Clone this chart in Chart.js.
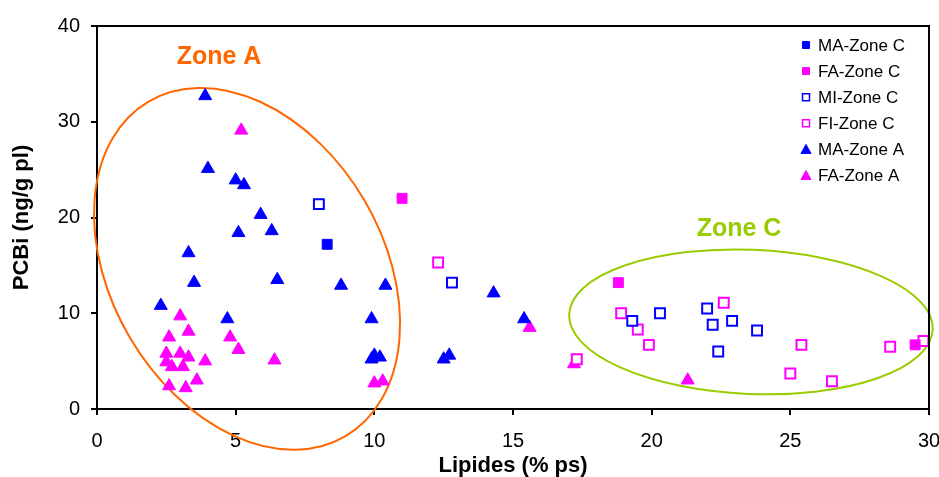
<!DOCTYPE html>
<html>
<head>
<meta charset="utf-8">
<script src="https://cdn.jsdelivr.net/npm/chart.js@4.4.0/dist/chart.umd.min.js"></script>
<style>
  html, body { margin: 0; padding: 0; background: #fff; }
  #wrap { width: 939px; height: 477px; }
</style>
</head>
<body>
<div id="wrap"><canvas id="pcbChart"></canvas></div>
<script>
// series: [lipides (% ps), PCBi (ng/g pl)]
var maZoneC = [[8.3, 17.2]];
var faZoneC = [[11.0, 22.0], [18.8, 13.2], [29.5, 6.7]];
var miZoneC = [[8.0, 21.4], [12.8, 13.2], [19.3, 9.2], [20.3, 10.0], [22.0, 10.5],
               [22.2, 8.8], [22.9, 9.2], [23.8, 8.2], [22.4, 6.0]];
var fiZoneC = [[12.3, 15.3], [17.3, 5.2], [18.9, 10.0], [19.5, 8.3], [19.9, 6.7],
               [22.6, 11.1], [25.4, 6.7], [25.0, 3.7], [26.5, 2.9], [28.6, 6.5], [29.8, 7.1]];
var maZoneA = [[3.9, 32.7], [4.0, 25.1], [5.0, 23.9], [5.3, 23.4], [5.9, 20.3], [6.3, 18.6],
               [5.1, 18.4], [3.3, 16.3], [3.5, 13.2], [6.5, 13.5], [8.8, 12.9], [10.4, 12.9],
               [2.3, 10.8], [4.7, 9.4], [9.9, 9.4], [10.0, 5.6], [10.2, 5.4], [9.9, 5.2],
               [12.5, 5.2], [12.7, 5.6], [14.3, 12.1], [15.4, 9.4]];
var faZoneA = [[5.2, 29.1], [3.0, 9.7], [3.3, 8.1], [2.6, 7.5], [4.8, 7.5], [5.1, 6.2],
               [2.5, 5.8], [3.0, 5.8], [3.3, 5.4], [3.9, 5.0], [6.4, 5.1], [2.5, 4.9],
               [2.7, 4.4], [3.1, 4.4], [3.6, 3.0], [2.6, 2.4], [3.2, 2.2], [10.0, 2.7],
               [10.3, 2.9], [15.6, 8.5], [17.2, 4.7], [21.3, 3.0]];

var xTicks = [0, 5, 10, 15, 20, 25, 30];
var yTicks = [0, 10, 20, 30, 40];

var BLUE = '#0000FF', PINK = '#FF00FF';
var FONT = '"Liberation Sans", Arial, sans-serif';

function pts(arr) {
  return arr.map(function (p) { return { x: p[0], y: p[1] }; });
}

function ds(label, arr, color, style, filled) {
  return {
    label: label,
    data: pts(arr),
    pointStyle: style,
    pointRadius: style === 'triangle' ? 7.5 : 7,
    pointHoverRadius: style === 'triangle' ? 7.5 : 7,
    pointBackgroundColor: filled ? color : '#FFFFFF',
    pointBorderColor: color,
    pointBorderWidth: filled ? 1 : 2,
    showLine: false
  };
}

// zone ellipses (centre in data units, radii in x-units, rotation in degrees)
var zones = [
  { text: 'Zone A', color: '#FF6600', cx: 5.41, cy: 14.64, rx: 4.9, ry: 7.0, rot: -30.5, tx: 4.4, ty: 36.8 },
  { text: 'Zone C', color: '#99CC00', cx: 23.58, cy: 9.1, rx: 6.56, ry: 2.6, rot: 2.4, tx: 23.15, ty: 18.8 }
];

var extras = {
  id: 'extras',
  beforeDatasetsDraw: function (chart) {
    var ctx = chart.ctx, x = chart.scales.x, y = chart.scales.y;
    var k = x.getPixelForValue(1) - x.getPixelForValue(0);
    ctx.save();
    zones.forEach(function (z) {
      ctx.beginPath();
      ctx.strokeStyle = z.color;
      ctx.lineWidth = 2;
      ctx.ellipse(x.getPixelForValue(z.cx), y.getPixelForValue(z.cy), z.rx * k, z.ry * k, z.rot * Math.PI / 180, 0, Math.PI * 2);
      ctx.stroke();
      ctx.fillStyle = z.color;
      ctx.font = 'bold 25px ' + FONT;
      ctx.textAlign = 'center';
      ctx.textBaseline = 'middle';
      ctx.fillText(z.text, x.getPixelForValue(z.tx), y.getPixelForValue(z.ty));
    });
    ctx.restore();
  },
  afterDraw: function (chart) {
    var ctx = chart.ctx, a = chart.chartArea;
    ctx.save();
    // plot frame (top and right)
    ctx.strokeStyle = '#000';
    ctx.lineWidth = 2;
    ctx.beginPath();
    ctx.moveTo(a.left, a.top);
    ctx.lineTo(a.right, a.top);
    ctx.lineTo(a.right, a.bottom);
    ctx.stroke();
    // legend inside plot
    var lx = 806, ly = 45, step = 26.1;
    ctx.font = '17px ' + FONT;
    ctx.textBaseline = 'middle';
    ctx.textAlign = 'left';
    chart.data.datasets.forEach(function (d, i) {
      var cy = ly + i * step;
      ctx.fillStyle = d.pointBackgroundColor;
      ctx.strokeStyle = d.pointBorderColor;
      ctx.lineWidth = d.pointBorderWidth === 2 ? 1.5 : 1;
      ctx.beginPath();
      if (d.pointStyle === 'triangle') {
        ctx.moveTo(lx, cy - 5);
        ctx.lineTo(lx + 5, cy + 4);
        ctx.lineTo(lx - 5, cy + 4);
        ctx.closePath();
      } else {
        ctx.rect(lx - 3.5, cy - 3.5, 7, 7);
      }
      ctx.fill();
      ctx.stroke();
      ctx.fillStyle = '#000';
      ctx.fillText(d.label, lx + 12, cy + 1);
    });
    ctx.restore();
  }
};

var ctx = document.getElementById('pcbChart');
new Chart(ctx, {
  type: 'scatter',
  data: {
    datasets: [
      ds('MA-Zone C', maZoneC, BLUE, 'rect', true),
      ds('FA-Zone C', faZoneC, PINK, 'rect', true),
      ds('MI-Zone C', miZoneC, BLUE, 'rect', false),
      ds('FI-Zone C', fiZoneC, PINK, 'rect', false),
      ds('MA-Zone A', maZoneA, BLUE, 'triangle', true),
      ds('FA-Zone A', faZoneA, PINK, 'triangle', true)
    ]
  },
  options: {
    responsive: true,
    maintainAspectRatio: false,
    animation: false,
    layout: { padding: { left: 0, top: 26, right: 0, bottom: 0 } },
    plugins: {
      legend: { display: false },
      tooltip: { enabled: false }
    },
    scales: {
      x: {
        type: 'linear',
        min: 0, max: 30,
        afterBuildTicks: function (s) { s.ticks = xTicks.map(function (v) { return { value: v }; }); },
        afterFit: function (s) { s.height = 68; s.paddingLeft = 0; s.paddingRight = 10; },
        grid: { display: true, drawOnChartArea: false, drawTicks: true, tickLength: 6, color: '#000', lineWidth: 2 },
        border: { display: true, color: '#000', width: 2 },
        ticks: { color: '#000', font: { family: FONT, size: 20 }, padding: 14, maxRotation: 0 },
        title: { display: true, text: 'Lipides (% ps)', color: '#000', font: { family: FONT, size: 22, weight: 'bold', lineHeight: 1 }, padding: { top: 0, bottom: 0 } }
      },
      y: {
        type: 'linear',
        min: 0, max: 40,
        afterBuildTicks: function (s) { s.ticks = yTicks.map(function (v) { return { value: v }; }); },
        afterFit: function (s) { s.width = 97; s.paddingTop = 0; s.paddingBottom = 0; },
        grid: { display: true, drawOnChartArea: false, drawTicks: true, tickLength: 6, color: '#000', lineWidth: 2 },
        border: { display: true, color: '#000', width: 2 },
        ticks: { color: '#000', font: { family: FONT, size: 20 }, padding: 11 },
        title: { display: true, text: 'PCBi (ng/g pl)', color: '#000', font: { family: FONT, size: 22, weight: 'bold', lineHeight: 1 }, padding: { top: 11, bottom: 0 } }
      }
    }
  },
  plugins: [extras]
});
</script>
</body>
</html>
